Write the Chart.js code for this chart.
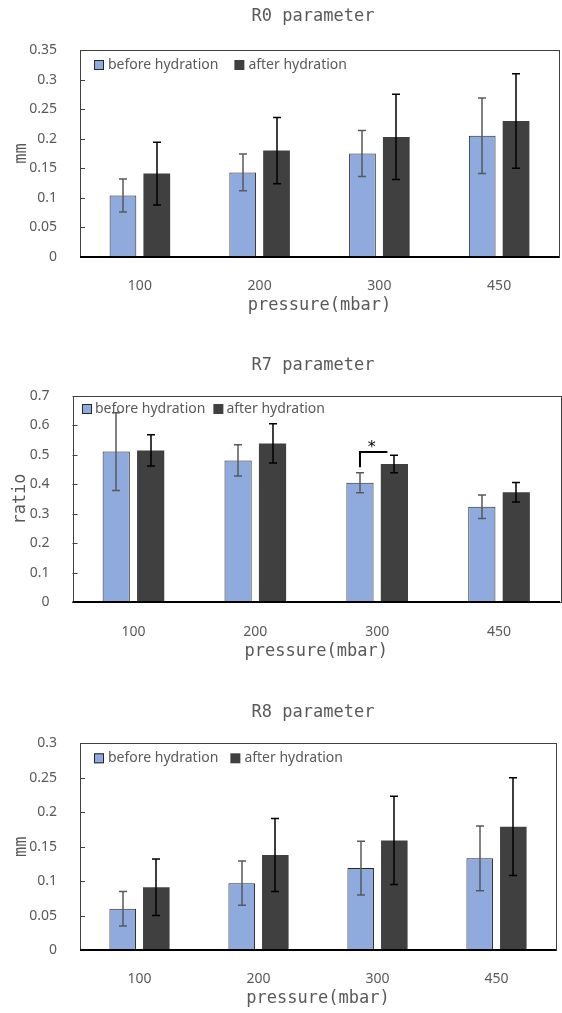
<!DOCTYPE html>
<html>
<head>
<meta charset="utf-8">
<script src="https://cdn.jsdelivr.net/npm/chart.js@4.4.1/dist/chart.umd.min.js"></script>
<style>
  html, body { margin: 0; padding: 0; background: #fff; overflow: hidden; }
  body { width: 562px; height: 1013px; position: relative; }
  canvas { position: absolute; left: 0; }
</style>
</head>
<body>
<canvas id="r0-chart" width="626" height="322" style="top:0px"></canvas>
<canvas id="r7-chart" width="626" height="322" style="top:345px"></canvas>
<canvas id="r8-chart" width="626" height="323" style="top:692px"></canvas>
<script>
// categories and series
const pressures = ["100", "200", "300", "450"];
const seriesNames = ["before hydration", "after hydration"];

// R0 parameter (mm)
const r0Before = [0.104, 0.143, 0.175, 0.205];
const r0BeforeErr = [0.028, 0.031, 0.039, 0.064];
const r0After = [0.141, 0.180, 0.203, 0.230];
const r0AfterErr = [0.053, 0.056, 0.072, 0.080];
const r0Ticks = [0, 0.05, 0.1, 0.15, 0.2, 0.25, 0.3, 0.35];

// R7 parameter (ratio)
const r7Before = [0.511, 0.481, 0.405, 0.324];
const r7BeforeErr = [0.132, 0.053, 0.034, 0.040];
const r7After = [0.515, 0.539, 0.469, 0.373];
const r7AfterErr = [0.053, 0.067, 0.030, 0.033];
const r7Ticks = [0, 0.1, 0.2, 0.3, 0.4, 0.5, 0.6, 0.7];
const r7Marks = [{ category: "300", low: 0.458, high: 0.51, text: "*" }];

// R8 parameter (mm)
const r8Before = [0.060, 0.097, 0.119, 0.133];
const r8BeforeErr = [0.025, 0.032, 0.039, 0.047];
const r8After = [0.091, 0.138, 0.159, 0.179];
const r8AfterErr = [0.041, 0.053, 0.064, 0.071];
const r8Ticks = [0, 0.05, 0.1, 0.15, 0.2, 0.25, 0.3];

const mono = '"DejaVu Sans Mono", monospace';
const gray = "#595959";
Chart.defaults.font.family = '"Noto Sans", sans-serif';

// legend drawn inside the plot area, under the error bars
function insideLegend(pos) {
  return {
    id: "insideLegend",
    beforeDatasetsDraw(chart) {
      const { ctx, chartArea } = chart;
      ctx.save();
      ctx.font = '14px "Noto Sans"';
      ctx.textBaseline = "middle";
      let x = chartArea.left + pos.left;
      const y = chartArea.top + pos.top;
      chart.data.datasets.forEach((ds) => {
        ctx.fillStyle = ds.backgroundColor;
        ctx.fillRect(x, y - 5, 10, 10);
        if (ds.borderWidth) {
          ctx.strokeStyle = ds.borderColor;
          ctx.lineWidth = 1;
          ctx.strokeRect(x + 0.5, y - 4.5, 9, 9);
        }
        ctx.fillStyle = gray;
        ctx.fillText(ds.label, x + 10 + pos.gap, y);
        x += 10 + pos.gap + ctx.measureText(ds.label).width + pos.spacing;
      });
      ctx.restore();
    },
  };
}

// box around the plot, inner tick marks, heavy baseline
const plotFrame = {
  id: "plotFrame",
  afterDatasetsDraw(chart) {
    const { ctx, chartArea: a, scales: { y } } = chart;
    ctx.save();
    ctx.strokeStyle = "#404040";
    ctx.lineWidth = 1;
    ctx.strokeRect(Math.round(a.left) + 0.5, Math.round(a.top) + 0.5, Math.round(a.width), Math.round(a.height));
    ctx.beginPath();
    y.ticks.forEach((t) => {
      const py = Math.round(y.getPixelForValue(t.value)) + 0.5;
      ctx.moveTo(a.left, py);
      ctx.lineTo(a.left + 5, py);
    });
    ctx.stroke();
    ctx.strokeStyle = "#000";
    ctx.lineWidth = 2;
    ctx.beginPath();
    ctx.moveTo(a.left, a.bottom);
    ctx.lineTo(a.right, a.bottom);
    ctx.stroke();
    ctx.restore();
  },
};

const errorBars = {
  id: "errorBars",
  afterDatasetsDraw(chart) {
    const { ctx, scales: { y } } = chart;
    chart.data.datasets.forEach((ds, i) => {
      const meta = chart.getDatasetMeta(i);
      ctx.save();
      ctx.strokeStyle = ds.errorColor;
      ctx.lineWidth = 1.5;
      meta.data.forEach((bar, j) => {
        const top = y.getPixelForValue(ds.data[j] + ds.errors[j]);
        const bottom = y.getPixelForValue(ds.data[j] - ds.errors[j]);
        const x = Math.round(bar.x);
        ctx.beginPath();
        ctx.moveTo(x, top);
        ctx.lineTo(x, bottom);
        ctx.moveTo(x - 4, top);
        ctx.lineTo(x + 4, top);
        ctx.moveTo(x - 4, bottom);
        ctx.lineTo(x + 4, bottom);
        ctx.stroke();
      });
      ctx.restore();
    });
  },
};

// significance bracket with star
function sigMarks(marks) {
  return {
    id: "sigMarks",
    afterDatasetsDraw(chart) {
      const { ctx, scales: { y } } = chart;
      marks.forEach((m) => {
        const idx = pressures.indexOf(m.category);
        const x1 = chart.getDatasetMeta(0).data[idx].x;
        const x2 = chart.getDatasetMeta(1).data[idx].x - 7;
        const yLow = y.getPixelForValue(m.low);
        const yHigh = y.getPixelForValue(m.high);
        ctx.save();
        ctx.strokeStyle = "#000";
        ctx.lineWidth = 2;
        ctx.beginPath();
        ctx.moveTo(x1, yLow);
        ctx.lineTo(x1, yHigh);
        ctx.lineTo(x2, yHigh);
        ctx.stroke();
        ctx.fillStyle = "#000";
        ctx.font = '16px "DejaVu Sans"';
        ctx.textAlign = "center";
        ctx.textBaseline = "alphabetic";
        ctx.fillText(m.text, (x1 + x2) / 2 - 2, yHigh);
        ctx.restore();
      });
    },
  };
}

function makeChart(id, cfg) {
  return new Chart(document.getElementById(id), {
    type: "bar",
    data: {
      labels: pressures,
      datasets: [
        {
          label: seriesNames[0],
          data: cfg.before,
          errors: cfg.beforeErr,
          errorColor: gray,
          backgroundColor: "#8faadc",
          borderColor: "#262626",
          borderWidth: 1,
          categoryPercentage: 0.565,
          barPercentage: 0.79,
        },
        {
          label: seriesNames[1],
          data: cfg.after,
          errors: cfg.afterErr,
          errorColor: "#000000",
          backgroundColor: "#404040",
          borderWidth: 0,
          categoryPercentage: 0.565,
          barPercentage: 0.79,
        },
      ],
    },
    options: {
      responsive: false,
      animation: false,
      devicePixelRatio: 1,
      layout: { padding: 0 },
      scales: {
        x: {
          grid: { display: false },
          border: { display: false },
          ticks: { color: gray, font: { size: 14 }, padding: cfg.xTickPad },
          title: {
            display: true,
            text: "pressure(mbar)",
            color: gray,
            font: { family: mono, size: 17 },
            padding: { top: 0, bottom: cfg.xTitlePad },
          },
          afterFit: (s) => { s.height = 65; },
        },
        y: {
          min: cfg.ticks[0],
          max: cfg.ticks[cfg.ticks.length - 1],
          afterBuildTicks: (s) => { s.ticks = cfg.ticks.map((v) => ({ value: v })); },
          grid: { display: false },
          border: { display: false },
          ticks: { color: gray, font: { size: 14 }, padding: 15, callback: (v) => String(v) },
          title: {
            display: true,
            text: cfg.yTitle,
            color: gray,
            font: { family: mono, size: 17 },
            padding: { top: cfg.yTitlePad, bottom: 0 },
          },
          afterFit: (s) => { s.width = cfg.left; },
        },
        pad: {
          type: "linear",
          position: "right",
          grid: { display: false },
          border: { display: false },
          ticks: { display: false },
          afterFit: (s) => { s.width = cfg.padRight; },
        },
      },
      plugins: {
        legend: { display: false },
        tooltip: { enabled: false },
        title: {
          display: true,
          text: cfg.title,
          color: gray,
          font: { family: mono, size: 17, weight: "normal" },
          padding: cfg.titlePad,
        },
      },
    },
    plugins: [insideLegend(cfg.legend), plotFrame, errorBars, sigMarks(cfg.marks || [])],
  });
}

makeChart("r0-chart", {
  title: "R0 parameter", yTitle: "mm",
  before: r0Before, beforeErr: r0BeforeErr, after: r0After, afterErr: r0AfterErr, ticks: r0Ticks,
  left: 80, padRight: 67,
  titlePad: { top: 6.8, bottom: 22.8 },
  xTickPad: 12.6, xTitlePad: 5.8, yTitlePad: 11.3,
  legend: { left: 14, top: 15, gap: 4, spacing: 16 },
});

makeChart("r7-chart", {
  title: "R7 parameter", yTitle: "ratio",
  before: r7Before, beforeErr: r7BeforeErr, after: r7After, afterErr: r7AfterErr, ticks: r7Ticks,
  marks: r7Marks,
  left: 72.5, padRight: 66,
  titlePad: { top: 10.3, bottom: 20.3 },
  xTickPad: 13.9, xTitlePad: 5.1, yTitlePad: 10.8,
  legend: { left: 9.5, top: 13, gap: 3, spacing: 8 },
});

makeChart("r8-chart", {
  title: "R8 parameter", yTitle: "mm",
  before: r8Before, beforeErr: r8BeforeErr, after: r8After, afterErr: r8AfterErr, ticks: r8Ticks,
  left: 80, padRight: 70,
  titlePad: { top: 10.3, bottom: 20.6 },
  xTickPad: 12.6, xTitlePad: 6.5, yTitlePad: 11.3,
  legend: { left: 14, top: 15, gap: 4, spacing: 12 },
});
</script>
</body>
</html>
